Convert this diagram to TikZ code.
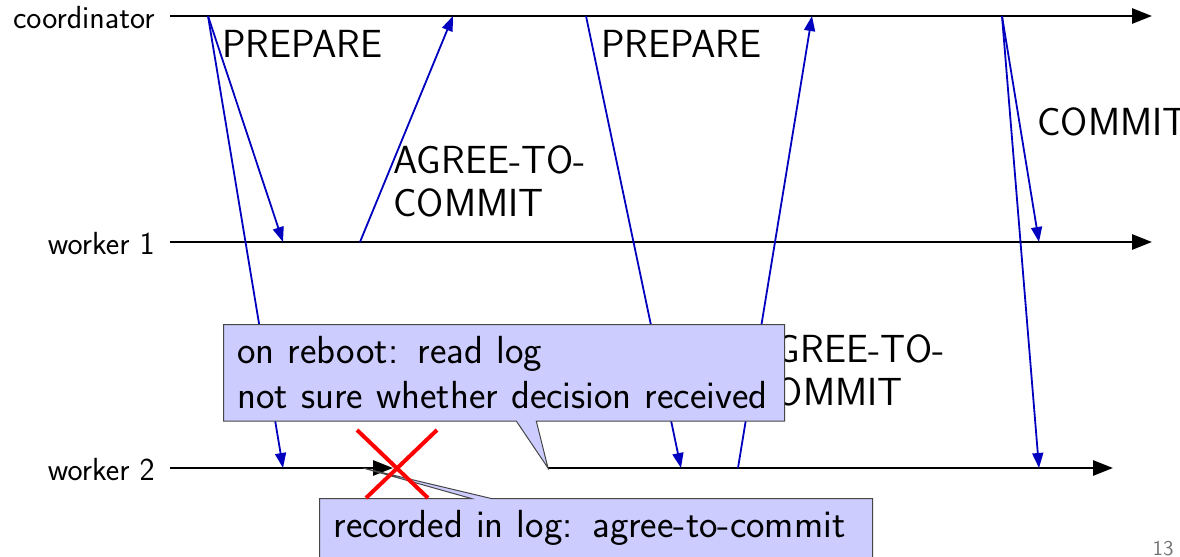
\documentclass[tikz,border=0pt]{standalone}
\usetikzlibrary{arrows.meta,shapes.callouts}
\definecolor{msgblue}{RGB}{0,0,190}
\definecolor{notefill}{RGB}{204,204,255}
\definecolor{noteline}{RGB}{70,70,70}
\begin{document}
\begin{tikzpicture}[x=0.5pt,y=-0.5pt,
  lane/.style={line width=1.4pt,-{Triangle[length=10pt,width=7.5pt]}},
  msg/.style={draw=msgblue,line width=0.9pt,-{Triangle[length=7.5pt,width=5.5pt]}},
  lanelabel/.style={font=\sffamily\fontsize{16}{19}\selectfont,anchor=east,inner sep=0pt},
  msglabel/.style={font=\sffamily\fontsize{19.6}{21.5}\selectfont,align=left,anchor=north west,inner sep=0pt},
  note/.style={rectangle callout,draw=noteline,fill=notefill,line width=0.5pt,
    font=\sffamily\fontsize{19.6}{22.5}\selectfont,align=left,anchor=north west,
    inner xsep=7pt,inner ysep=6pt,callout pointer width=10pt},
  cross/.style={draw=red,line width=2pt}]
\useasboundingbox (0,0) rectangle (1180,557);

% process lanes
\coordinate (c0) at (170,16);  \coordinate (c1) at (1152,16);
\coordinate (a0) at (170,242); \coordinate (a1) at (1152,242);
\coordinate (b0) at (170,468); \coordinate (bcrash) at (393,468);
\coordinate (breboot) at (548,468); \coordinate (b1) at (1113,468);
\coordinate (logtip) at (363,468);

\node[lanelabel] (lc) at (155,18) {coordinator};
\node[lanelabel] (lw1) at (155,244) {worker 1};
\node[lanelabel] (lw2) at (155,470) {worker 2};

\draw[lane] (c0) -- (c1);
\draw[lane] (a0) -- (a1);
\draw[lane] (b0) -- (bcrash);
\draw[lane] (breboot) -- (b1);

% message endpoints
\coordinate (p1) at (208,16);
\coordinate (p1w1) at (283,242);
\coordinate (p1w2) at (283,468);
\coordinate (ag1s) at (360,242);
\coordinate (ag1e) at (453,16);
\coordinate (p2) at (586,16);
\coordinate (p2w2) at (681,468);
\coordinate (ag2s) at (738,468);
\coordinate (ag2e) at (812,16);
\coordinate (cm) at (1002,16);
\coordinate (cmw1) at (1039,242);
\coordinate (cmw2) at (1039,468);

\draw[msg] (p1) -- (p1w1);
\draw[msg] (p1) -- (p1w2);
\draw[msg] (ag1s) -- (ag1e);
\draw[msg] (p2) -- (p2w2);
\draw[msg] (ag2s) -- (ag2e);
\draw[msg] (cm) -- (cmw1);
\draw[msg] (cm) -- (cmw2);

% message labels
\node[msglabel] (lp1) at (222,30) {PREPARE};
\node[msglabel] (lp2) at (601,30) {PREPARE};
\node[msglabel] (la1) at (393,145.5) {AGREE-TO-\\COMMIT};
\node[msglabel] (la2) at (752,334) {AGREE-TO-\\COMMIT};
\node[msglabel] (lcm) at (1037,107) {COMMIT};

% notes about the crashed worker
\node[note,text width=266.5pt,callout absolute pointer={(breboot)}] (reboot) at (223,324)
  {on reboot: read log\\not sure whether decision received};
\node[note,text width=262.5pt,callout absolute pointer={(logtip)}] (logged) at (319,498)
  {recorded in log: agree-to-commit};

% crash mark
\coordinate (xa) at (357,430); \coordinate (xb) at (428,498);
\coordinate (xc) at (437,430); \coordinate (xd) at (366,498);
\draw[cross] (xa) -- (xb);
\draw[cross] (xc) -- (xd);

\node[font=\sffamily\fontsize{10.5}{12}\selectfont,text=black!55,anchor=base east,inner sep=0pt] (pg) at (1174,555) {13};
\end{tikzpicture}
\end{document}
